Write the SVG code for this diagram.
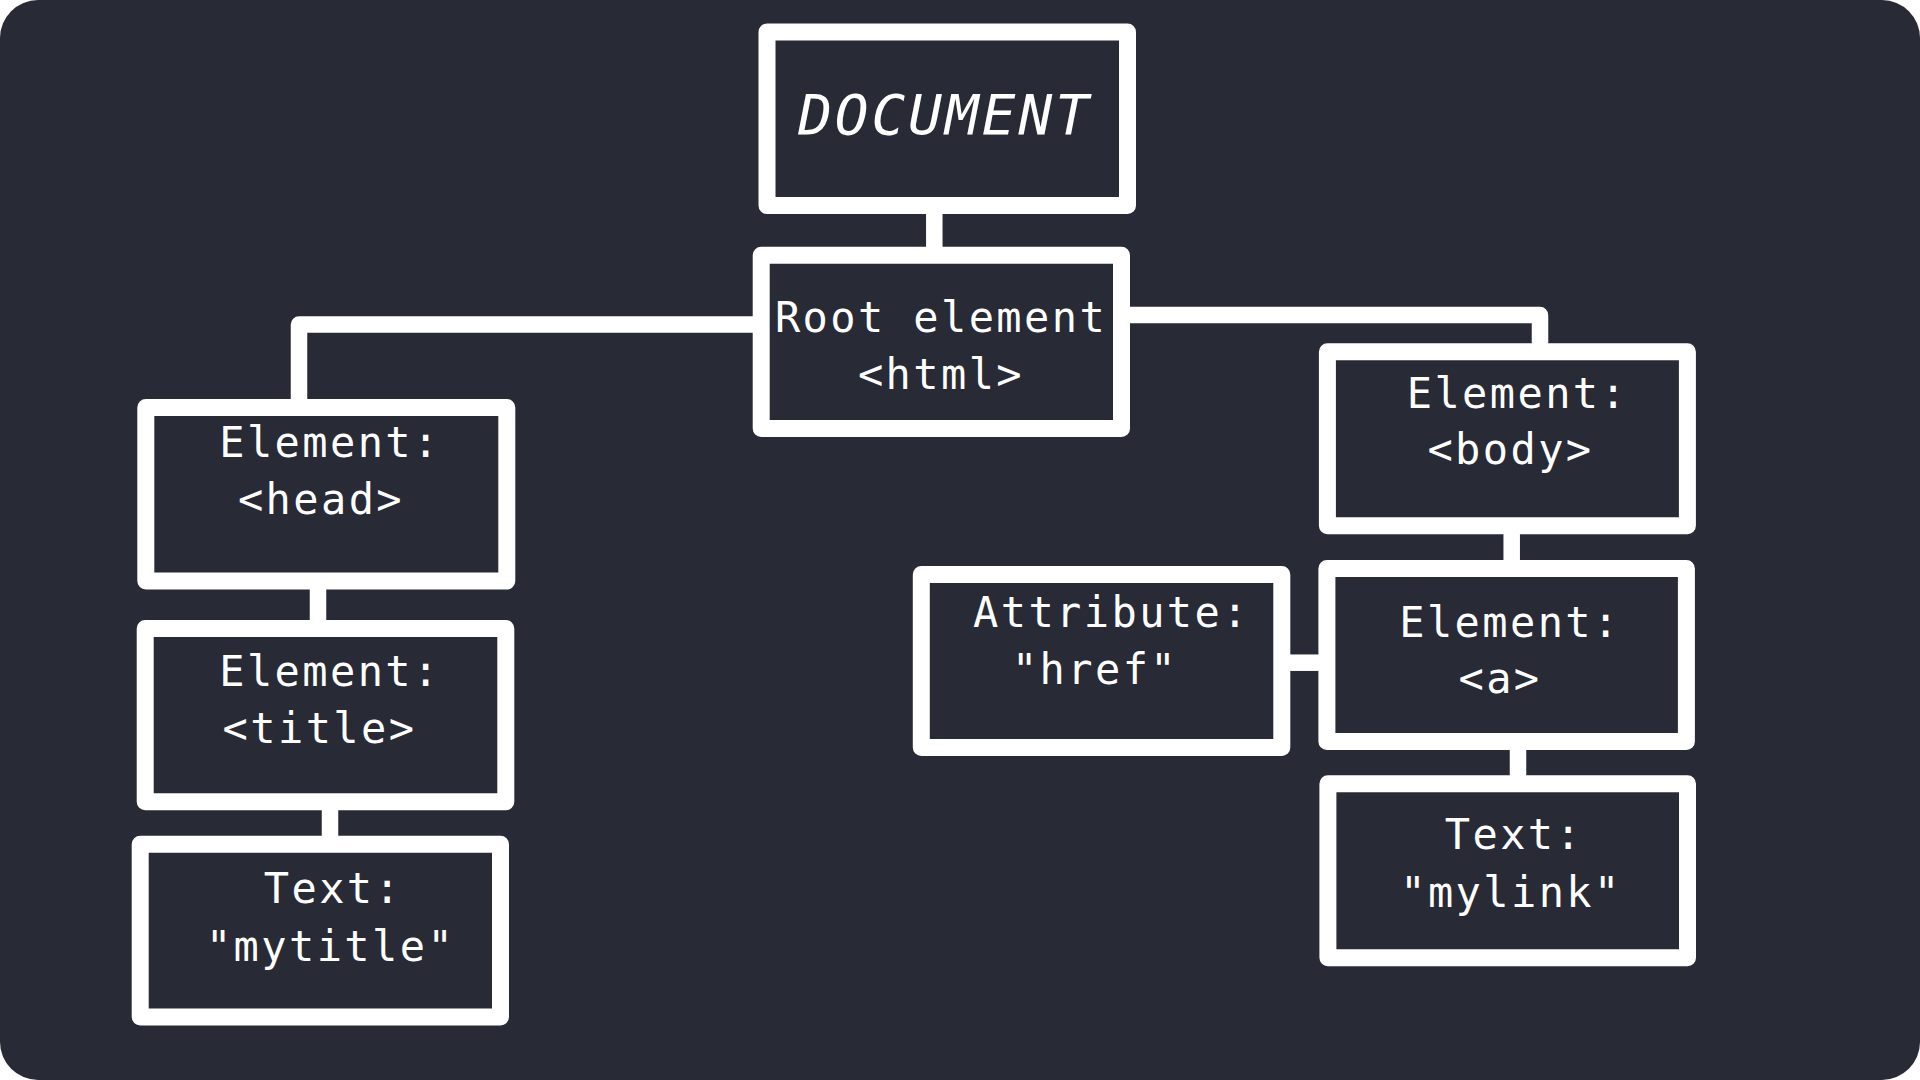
<svg xmlns="http://www.w3.org/2000/svg" width="1920" height="1080" viewBox="0 0 1920 1080">
<style>
.box{fill:#282a36;stroke:#ffffff;stroke-width:17;stroke-linejoin:round}
.con{fill:none;stroke:#ffffff;stroke-width:16.5;stroke-linejoin:round}
.t{font-family:"DejaVu Sans Mono","Liberation Mono",monospace;font-size:42px;letter-spacing:2.4px;fill:#ffffff;text-anchor:middle}
.doc{font-family:"DejaVu Sans Mono","Liberation Mono",monospace;font-size:56px;font-style:italic;letter-spacing:3px;fill:#ffffff;text-anchor:middle}
</style>
<rect x="0" y="0" width="1920" height="1080" fill="#ffffff"/>
<rect x="0" y="0" width="1920" height="1080" rx="38" ry="38" fill="#282a36"/>
<g id="connectors">
<path class="con" d="M934.3 212V249"/>
<path class="con" d="M755 324.5H299V401"/>
<path class="con" d="M1128 315H1540V345"/>
<path class="con" d="M318 587V622"/>
<path class="con" d="M330 808V838"/>
<path class="con" d="M1511.7 532V562"/>
<path class="con" d="M1518 748V777"/>
<path class="con" d="M1288 662.7H1320"/>
</g>
<g id="document">
<rect class="box" x="767" y="32" width="360.5" height="173.5"/>
<text class="doc" x="945" y="134">DOCUMENT</text>
</g>
<g id="root">
<rect class="box" x="761.2" y="255.2" width="360.3" height="173.3"/>
<text class="t" x="941" y="332">Root element</text>
<text class="t" x="941" y="389">&lt;html&gt;</text>
</g>
<g id="head">
<rect class="box" x="145.8" y="407.4" width="361" height="173.6"/>
<text class="t" x="330" y="457">Element:</text>
<text class="t" x="321" y="514">&lt;head&gt;</text>
</g>
<g id="title">
<rect class="box" x="145.2" y="628.4" width="360.6" height="173.4"/>
<text class="t" x="330" y="686">Element:</text>
<text class="t" x="319.5" y="743">&lt;title&gt;</text>
</g>
<g id="mytitle">
<rect class="box" x="140.2" y="844.3" width="360.3" height="172.6"/>
<text class="t" x="333" y="903">Text:</text>
<text class="t" x="330.5" y="961">"mytitle"</text>
</g>
<g id="body">
<rect class="box" x="1327.4" y="351.8" width="360" height="174"/>
<text class="t" x="1517.5" y="408">Element:</text>
<text class="t" x="1510.5" y="464">&lt;body&gt;</text>
</g>
<g id="attribute">
<rect class="box" x="921.3" y="574.5" width="360.5" height="173"/>
<text class="t" x="1111.5" y="627">Attribute:</text>
<text class="t" x="1095" y="684">"href"</text>
</g>
<g id="a">
<rect class="box" x="1326.9" y="568.5" width="359.5" height="173"/>
<text class="t" x="1510" y="637">Element:</text>
<text class="t" x="1500" y="693">&lt;a&gt;</text>
</g>
<g id="mylink">
<rect class="box" x="1327.9" y="783.8" width="359.6" height="174"/>
<text class="t" x="1514" y="849">Text:</text>
<text class="t" x="1511" y="907">"mylink"</text>
</g>
</svg>
